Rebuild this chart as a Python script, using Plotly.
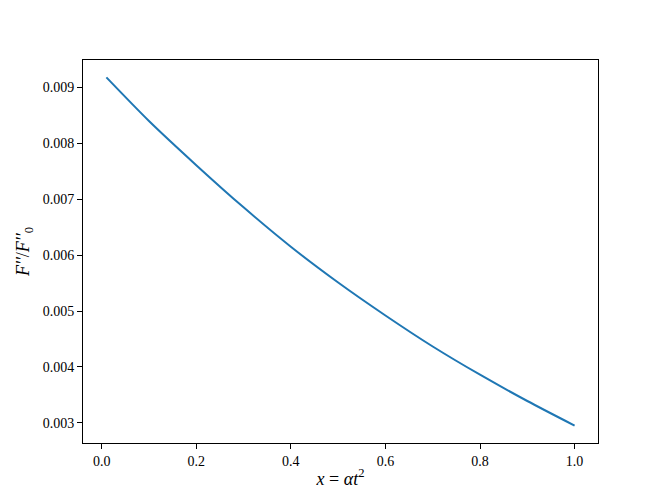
import plotly.graph_objects as go

x_vals = [0.01, 0.1, 0.2, 0.3, 0.4, 0.5, 0.6, 0.7, 0.8, 0.9, 1.0]
y_vals = [0.00918, 0.00840, 0.00761, 0.006855, 0.00615, 0.00551, 0.00492, 0.004365, 0.00386, 0.00339, 0.00295]
x_ticks = [0.0, 0.2, 0.4, 0.6, 0.8, 1.0]
y_ticks = [0.003, 0.004, 0.005, 0.006, 0.007, 0.008, 0.009]

def padded(vals, frac=0.05):
    lo, hi = min(vals), max(vals)
    d = (hi - lo) * frac
    return [lo - d, hi + d]

FONT = "Liberation Serif, DejaVu Serif, serif"

fig = go.Figure(go.Scatter(x=x_vals, y=y_vals, mode="lines",
                           line=dict(color="#1f77b4", width=2, shape="spline", smoothing=0.8),
                           showlegend=False))

axis_common = dict(showline=True, linecolor="black", linewidth=1, mirror=True,
                   ticks="outside", ticklen=5, tickwidth=1, tickcolor="black",
                   showgrid=False, zeroline=False,
                   tickfont=dict(family=FONT, size=14, color="black"))

fig.update_layout(
    width=664, height=498,
    margin=dict(l=83, r=66, t=60, b=55),
    paper_bgcolor="white", plot_bgcolor="white",
    font=dict(family=FONT, color="black"),
    xaxis=dict(range=padded(x_vals), tickvals=x_ticks, tickformat=".1f",
               title=dict(text="<i>x</i> = <i>αt</i><sup>2</sup>", font=dict(family=FONT, size=18), standoff=4),
               **axis_common),
    yaxis=dict(range=padded(y_vals), tickvals=y_ticks, tickformat=".3f",
               title=dict(text="<i>F′′</i>/<i>F′′</i><sub>0</sub>", font=dict(family=FONT, size=18), standoff=8),
               **axis_common),
)

fig.write_html("out.html", config={"displayModeBar": False},
               post_script="document.body.style.margin='0';document.body.style.padding='0';")
